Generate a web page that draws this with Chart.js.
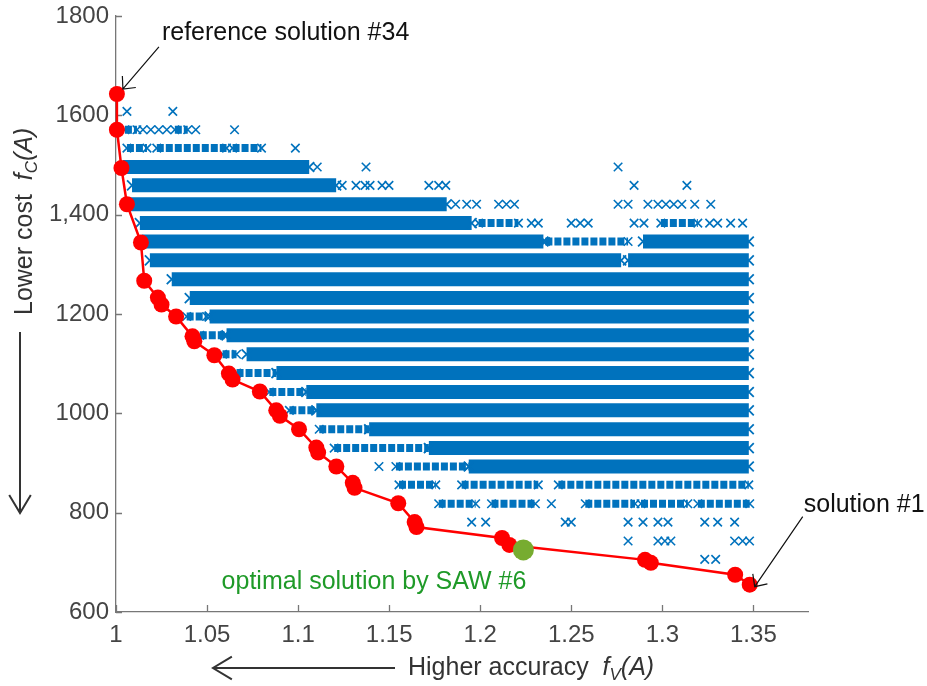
<!DOCTYPE html>
<html>
<head>
<meta charset="utf-8">
<script src="https://cdn.jsdelivr.net/npm/chart.js@4.4.0/dist/chart.umd.min.js"></script>
<style>
  html, body { margin: 0; padding: 0; background: #fff; }
</style>
</head>
<body>
<canvas id="myChart" width="927" height="686"></canvas>
<script>
var font = '"Liberation Sans", Arial, sans-serif';
var blue = "rgb(0,114,189)";

var xTicks = [1, 1.05, 1.1, 1.15, 1.2, 1.25, 1.3, 1.35];
var xTickLabels = ["1", "1.05", "1.1", "1.15", "1.2", "1.25", "1.3", "1.35"];
var yTicks = [600, 800, 1000, 1200, 1400, 1600, 1800];
var yTickLabels = ["600", "800", "1000", "1200", "1,400", "1600", "1800"];

// pareto front (red), solution #34 first, solution #1 last
var paretoX = [1.0005, 1.0005, 1.003, 1.006, 1.0137, 1.0155, 1.023, 1.025, 1.033, 1.042, 1.043, 1.054, 1.062, 1.064,
  1.079, 1.088, 1.09, 1.1005, 1.11, 1.111, 1.121, 1.13, 1.131, 1.155, 1.164, 1.165, 1.212, 1.216, 1.2905, 1.2937, 1.340, 1.348];
var paretoY = [1643, 1571, 1494, 1421, 1344, 1267, 1233, 1219, 1195, 1155, 1145, 1117, 1080, 1068,
  1044, 1006, 995, 968, 931, 921, 893, 860, 850, 819, 781, 771, 749, 735, 705, 699, 675, 655];
// optimal solution by SAW
var sawX = [1.2237];
var sawY = [725];

// solid rows of solutions: [cost, accuracy from, accuracy to]
var denseRows = [
  [1496, 1.0038, 1.1061], [1459, 1.0088, 1.1209], [1421, 1.0077, 1.1816], [1383, 1.0131, 1.1953],
  [1346, 1.0142, 1.2347], [1346, 1.2894, 1.3475], [1308, 1.0186, 1.2774], [1308, 1.2812, 1.3475],
  [1270, 1.0306, 1.3475], [1232, 1.0405, 1.3475], [1195, 1.0514, 1.3475], [1157, 1.0607, 1.3475],
  [1119, 1.0717, 1.3475], [1081, 1.0881, 1.3475], [1043, 1.1045, 1.3475], [1006, 1.11, 1.3475],
  [968, 1.139, 1.3475], [930, 1.1718, 1.3475], [893, 1.1937, 1.3475]
];
// thinner rows of scattered crosses
var looseRows = [
  [1571, 1.0049, 1.0115], [1571, 1.0323, 1.0394], [1534, 1.006, 1.017], [1534, 1.0224, 1.0607],
  [1534, 1.064, 1.0799], [1383, 1.1991, 1.221], [1383, 1.2992, 1.3195], [1346, 1.2358, 1.2812],
  [1195, 1.0388, 1.0498], [1157, 1.046, 1.0596], [1119, 1.0585, 1.0662], [1081, 1.0662, 1.0881],
  [1043, 1.0842, 1.1045], [1006, 1.0952, 1.11], [968, 1.1116, 1.139], [930, 1.1198, 1.1718],
  [893, 1.1537, 1.1937], [856, 1.1554, 1.1756], [856, 1.1898, 1.2319], [856, 1.2429, 1.3475],
  [818, 1.1772, 1.1975], [818, 1.2062, 1.2303], [818, 1.2577, 1.285], [818, 1.2883, 1.314],
  [818, 1.3195, 1.348]
];
// single crosses: [cost, [accuracies]]
var sparseRows = [
  [1608, [1.006, 1.0312]],
  [1571, [1.0148, 1.0191, 1.0235, 1.0279, 1.0438, 1.0651]],
  [1534, [1.0985]],
  [1496, [1.1105, 1.1373, 1.2757]],
  [1459, [1.1242, 1.1318, 1.1368, 1.1395, 1.1461, 1.1499, 1.1718, 1.1772, 1.1811, 1.2845, 1.3135]],
  [1421, [1.1865, 1.1926, 1.198, 1.2101, 1.2144, 1.2188, 1.2757, 1.2812, 1.2921, 1.2976, 1.302, 1.3063, 1.3107, 1.3178, 1.3266]],
  [1383, [1.2281, 1.2319, 1.25, 1.2549, 1.2593, 1.2845, 1.2899, 1.326, 1.3304, 1.3375, 1.3441]],
  [893, [1.1444]],
  [818, [1.2391]],
  [781, [1.1953, 1.203, 1.2467, 1.25, 1.2812, 1.2894, 1.2976, 1.3031, 1.3233, 1.3304, 1.3397]],
  [743, [1.2812, 1.2976, 1.3014, 1.3047, 1.3397, 1.3441, 1.3479]],
  [706, [1.3233, 1.3293]]
];

var datasets = [];
datasets.push({
  data: sawX.map(function (v, i) { return {x: v, y: sawY[i]}; }),
  pointRadius: 10.5, pointBackgroundColor: "#77ac30", pointBorderColor: "#77ac30", pointBorderWidth: 0, clip: false
});
datasets.push({
  data: paretoX.map(function (v, i) { return {x: v, y: paretoY[i]}; }),
  showLine: true, borderColor: "#ff0000", borderWidth: 2.5,
  pointRadius: 8, pointBackgroundColor: "#ff0000", pointBorderColor: "#ff0000", pointBorderWidth: 0, clip: false
});
var sparse = [];
sparseRows.forEach(function (r) { r[1].forEach(function (v) { sparse.push({x: v, y: r[0]}); }); });
datasets.push({
  data: sparse, pointStyle: "crossRot", pointRadius: 6, pointBorderColor: blue, pointBorderWidth: 1.6
});
looseRows.forEach(function (r) {
  datasets.push({
    data: [{x: r[1], y: r[0]}, {x: r[2], y: r[0]}], showLine: true, borderColor: blue, borderWidth: 8,
    borderDash: [7, 2], borderCapStyle: "butt",
    pointStyle: "crossRot", pointRadius: 6, pointBorderColor: blue, pointBorderWidth: 1.6
  });
});
denseRows.forEach(function (r) {
  datasets.push({
    data: [{x: r[1], y: r[0]}, {x: r[2], y: r[0]}], showLine: true, borderColor: blue, borderWidth: 14,
    borderCapStyle: "butt", pointStyle: "crossRot", pointRadius: 7, pointBorderColor: blue, pointBorderWidth: 1.8
  });
});

function arrow(ctx, x1, y1, x2, y2, head, spread) {
  var a = Math.atan2(y1 - y2, x1 - x2);
  ctx.beginPath();
  ctx.moveTo(x1, y1);
  ctx.lineTo(x2, y2);
  ctx.moveTo(x2 + head * Math.cos(a + spread), y2 + head * Math.sin(a + spread));
  ctx.lineTo(x2, y2);
  ctx.lineTo(x2 + head * Math.cos(a - spread), y2 + head * Math.sin(a - spread));
  ctx.stroke();
}

function drawRuns(ctx, x, y, runs) {
  runs.forEach(function (r) {
    ctx.font = (r.it ? "italic " : "") + r.size + "px " + font;
    ctx.fillText(r.t, x, y + (r.dy || 0));
    x += ctx.measureText(r.t).width;
  });
}

var decorations = {
  id: "decorations",
  beforeDatasetsDraw: function (chart) {
    var ctx = chart.ctx, area = chart.chartArea, x = chart.scales.x, y = chart.scales.y;
    ctx.save();
    ctx.strokeStyle = "#777";
    ctx.lineWidth = 1.3;
    ctx.beginPath();
    xTicks.forEach(function (v) {
      var px = Math.round(x.getPixelForValue(v)) + 0.5;
      ctx.moveTo(px, area.bottom); ctx.lineTo(px, area.bottom - 7);
    });
    yTicks.forEach(function (v) {
      var py = Math.round(y.getPixelForValue(v)) + 0.5;
      ctx.moveTo(area.left, py); ctx.lineTo(area.left + 6, py);
    });
    ctx.stroke();
    ctx.restore();
  },
  afterDraw: function (chart) {
    var ctx = chart.ctx, area = chart.chartArea, x = chart.scales.x, y = chart.scales.y;
    ctx.save();
    ctx.textBaseline = "alphabetic";
    ctx.textAlign = "left";

    // annotation: reference solution #34
    var p0x = x.getPixelForValue(paretoX[0]), p0y = y.getPixelForValue(paretoY[0]);
    ctx.strokeStyle = "#111"; ctx.lineWidth = 1.2;
    arrow(ctx, p0x + 42, p0y - 47, p0x + 6, p0y - 5, 13, 0.75);
    ctx.fillStyle = "#111";
    ctx.font = "25px " + font;
    ctx.fillText("reference solution #34", p0x + 45, p0y - 54);

    // annotation: solution #1
    var n = paretoX.length - 1;
    var p1x = x.getPixelForValue(paretoX[n]), p1y = y.getPixelForValue(paretoY[n]);
    arrow(ctx, p1x + 53, p1y - 68, p1x + 5, p1y + 2, 13, 0.75);
    ctx.fillText("solution #1", p1x + 54, p1y - 73);

    // annotation: SAW
    var gx = x.getPixelForValue(sawX[0]), gy = y.getPixelForValue(sawY[0]);
    ctx.fillStyle = "#1f9a28";
    ctx.textAlign = "right";
    ctx.fillText("optimal solution by SAW #6", gx + 3, gy + 39);
    ctx.textAlign = "left";

    // x axis title with arrow
    ctx.fillStyle = "#333";
    ctx.strokeStyle = "#333";
    ctx.lineWidth = 2;
    var ty = area.bottom + 63;
    drawRuns(ctx, 408, ty, [
      {t: "Higher accuracy  ", size: 25},
      {t: "f", size: 25, it: true},
      {t: "V", size: 17, it: true, dy: 5},
      {t: "(A)", size: 25, it: true}
    ]);
    arrow(ctx, 395, ty - 7, 213, ty - 7, 22, 0.54);

    // y axis title with arrow
    ctx.save();
    ctx.translate(32, 315);
    ctx.rotate(-Math.PI / 2);
    drawRuns(ctx, 0, 0, [
      {t: "Lower cost  ", size: 25},
      {t: "f", size: 25, it: true},
      {t: "C", size: 17, it: true, dy: 5},
      {t: "(A)", size: 25, it: true}
    ]);
    ctx.restore();
    arrow(ctx, 20, 332, 20, 513, 21, 0.54);
    ctx.restore();
  }
};

new Chart("myChart", {
  type: "scatter",
  data: {datasets: datasets},
  options: {
    responsive: false,
    animation: false,
    devicePixelRatio: 1,
    layout: {padding: {left: 0, right: 119, top: 16, bottom: 0}},
    plugins: {legend: {display: false}, tooltip: {enabled: false}},
    scales: {
      x: {
        type: "linear", min: 1, max: 1.38,
        afterBuildTicks: function (s) { s.ticks = xTicks.map(function (v) { return {value: v}; }); },
        afterFit: function (s) { s.height = 74; s.paddingLeft = 0; s.paddingRight = 0; },
        ticks: {
          autoSkip: false, maxRotation: 0, padding: 9, color: "#444",
          font: {size: 24, family: font},
          callback: function (v, i) { return xTickLabels[i]; }
        },
        grid: {display: false, drawTicks: false},
        border: {display: true, color: "#777", width: 1.3}
      },
      y: {
        type: "linear", min: 600, max: 1800,
        afterBuildTicks: function (s) { s.ticks = yTicks.map(function (v) { return {value: v}; }); },
        afterFit: function (s) { s.width = 116; s.paddingTop = 0; s.paddingBottom = 0; },
        ticks: {
          autoSkip: false, padding: 7, color: "#444",
          font: {size: 24, family: font},
          callback: function (v, i) { return yTickLabels[i]; }
        },
        grid: {display: false, drawTicks: false},
        border: {display: true, color: "#777", width: 1.3}
      }
    }
  },
  plugins: [decorations]
});
</script>
</body>
</html>
